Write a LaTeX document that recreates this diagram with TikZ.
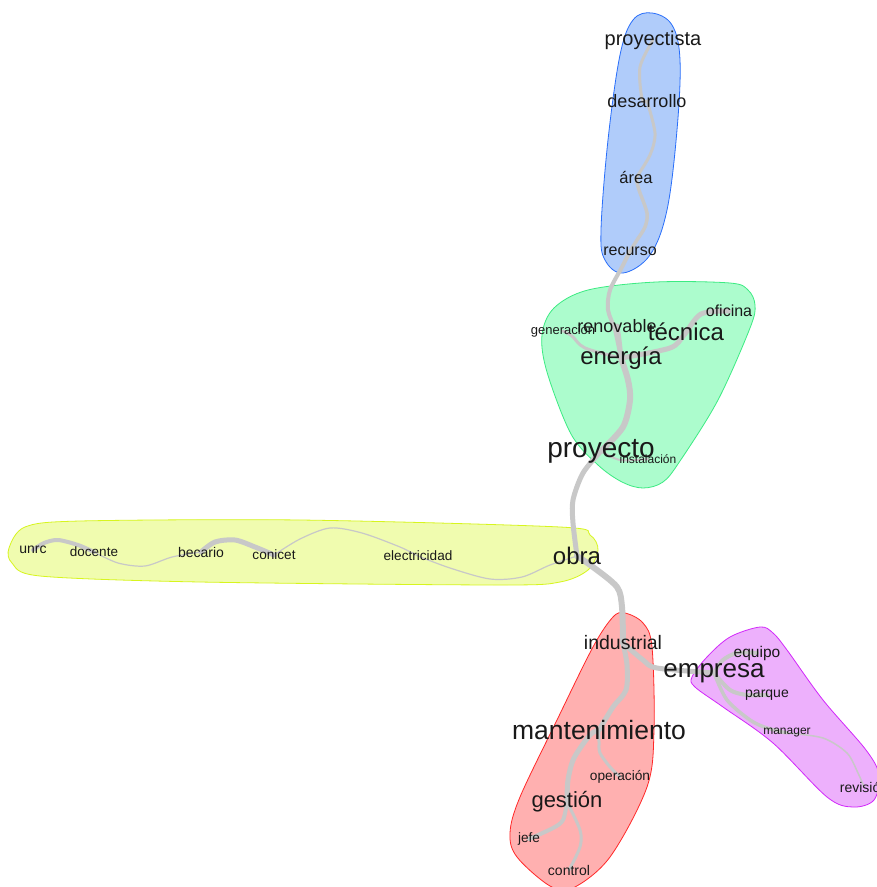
\documentclass[tikz,border=0pt]{standalone}
\usepackage{fontspec}
\setmainfont{Liberation Sans}
\pgfdeclarelayer{bg}
\pgfdeclarelayer{hull}
\pgfdeclarelayer{edges}
\pgfsetlayers{bg,hull,edges,main}
\definecolor{edgegray}{RGB}{200,200,200}
\definecolor{bluefill}{RGB}{176,204,250}
\definecolor{blueline}{RGB}{40,110,250}
\definecolor{greenfill}{RGB}{172,252,205}
\definecolor{greenline}{RGB}{60,235,130}
\definecolor{yellowfill}{RGB}{240,252,175}
\definecolor{yellowline}{RGB}{215,245,30}
\definecolor{redfill}{RGB}{255,176,176}
\definecolor{redline}{RGB}{255,40,40}
\definecolor{purplefill}{RGB}{237,176,252}
\definecolor{purpleline}{RGB}{210,40,250}
\tikzset{
  lbl/.style={inner sep=0pt, yshift=-2pt, text=black!90, font=\fontsize{#1}{#1}\selectfont},
  edge/.style={draw=edgegray, line width=#1, line cap=round, line join=round},
  hullshape/.style={line width=0.8pt}
}
\begin{document}
\begin{tikzpicture}[x=1pt,y=-1pt]
\clip (0,0) rectangle (877,887);
\begin{pgfonlayer}{bg}
\fill[white] (0,0) rectangle (877,887);
\end{pgfonlayer}
% nodes
\node[lbl=20] (proyectista) at (653,38) {proyectista};
\node[lbl=18] (desarrollo) at (647,99) {desarrollo};
\node[lbl=16.5] (area) at (636,176) {área};
\node[lbl=16] (recurso) at (630,249) {recurso};
\node[lbl=13] (generacion) at (563,329) {generación};
\node[lbl=18] (renovable) at (617,324) {renovable};
\node[lbl=24] (tecnica) at (686,330) {técnica};
\node[lbl=16] (oficina) at (729,309) {oficina};
\node[lbl=24] (energia) at (621,356) {energía};
\node[lbl=28] (proyecto) at (601,449) {proyecto};
\node[lbl=12] (instalacion) at (648,457) {instalación};
\node[lbl=14] (unrc) at (33,548) {unrc};
\node[lbl=13.5] (docente) at (94,550) {docente};
\node[lbl=14] (becario) at (201,550) {becario};
\node[lbl=13.6] (conicet) at (274,553) {conicet};
\node[lbl=13.6] (electricidad) at (418,554) {electricidad};
\node[lbl=24] (obra) at (577,554) {obra};
\node[lbl=19.5] (industrial) at (623,641) {industrial};
\node[lbl=26] (empresa) at (714,671) {empresa};
\node[lbl=15.5] (equipo) at (757,651) {equipo};
\node[lbl=14] (parque) at (767,693) {parque};
\node[lbl=12] (manager) at (787,731) {manager};
\node[lbl=14] (revision) at (864,785) {revisión};
\node[lbl=26.5] (mantenimiento) at (599,728) {mantenimiento};
\node[lbl=13.7] (operacion) at (620,775) {operación};
\node[lbl=22] (gestion) at (567,800) {gestión};
\node[lbl=13.6] (jefe) at (529,837) {jefe};
\node[lbl=14] (control) at (569,868) {control};
% edges
\begin{pgfonlayer}{edges}
\draw[edge=3pt] plot[smooth] coordinates {(proyectista.center) (640,67) (642,99) (desarrollo.center)};
\draw[edge=3pt] plot[smooth] coordinates {(desarrollo.center) (655,133) (650,155) (area.center)};
\draw[edge=3.5pt] plot[smooth] coordinates {(area.center) (639,190) (647,213) (645,227) (637,240) (recurso.center)};
\draw[edge=4pt] plot[smooth] coordinates {(recurso.center) (622,267) (610,290) (608,310) (615,330) (energia.center)};
\draw[edge=5pt] plot[smooth] coordinates {(renovable.center) (619,340) (energia.center)};
\draw[edge=6pt] plot[smooth] coordinates {(energia.center) (628,380) (630,400) (623,427) (proyecto.center)};
\draw[edge=3pt] plot[smooth] coordinates {(generacion.center) (572,336) (585,348) (energia.center)};
\draw[edge=5pt] plot[smooth] coordinates {(oficina.center) (701,314) (684,335) (670,348) (energia.center)};
\draw[edge=2pt] plot[smooth] coordinates {(proyecto.center) (620,460) (instalacion.center)};
\draw[edge=5pt] plot[smooth] coordinates {(proyecto.center) (583,473) (573,500) (573,523) (obra.center)};
\draw[edge=6pt] plot[smooth] coordinates {(obra.center) (593,567) (617,587) (622,607) (industrial.center)};
\draw[edge=5pt] plot[smooth] coordinates {(industrial.center) (627,665) (626,690) (613,707) (mantenimiento.center)};
\draw[edge=5pt] plot[smooth] coordinates {(industrial.center) (643,660) (657,668) (empresa.center)};
\draw[edge=5pt] plot[smooth] coordinates {(mantenimiento.center) (590,735) (574,758) (568,780) (gestion.center)};
\draw[edge=3pt] plot[smooth] coordinates {(mantenimiento.center) (599,742) (600,753) (610,767) (operacion.center)};
\draw[edge=4pt] plot[smooth] coordinates {(gestion.center) (563,820) (553,828) (jefe.center)};
\draw[edge=3pt] plot[smooth] coordinates {(gestion.center) (580,830) (580,847) (control.center)};
\draw[edge=4pt] plot[smooth] coordinates {(empresa.center) (723,660) (737,653) (equipo.center)};
\draw[edge=4pt] plot[smooth] coordinates {(empresa.center) (730,690) (747,695) (parque.center)};
\draw[edge=3.5pt] plot[smooth] coordinates {(empresa.center) (727,700) (750,720) (767,728) (manager.center)};
\draw[edge=1.5pt] plot[smooth] coordinates {(manager.center) (823,738) (847,753) (858,773) (revision.center)};
\draw[edge=4pt] plot[smooth] coordinates {(unrc.center) (44,543) (58,540) (78,545) (docente.center)};
\draw[edge=1.2pt] plot[smooth] coordinates {(docente.center) (118,563) (145,566) (172,557) (becario.center)};
\draw[edge=5pt] plot[smooth] coordinates {(becario.center) (215,542) (235,540) (255,547) (conicet.center)};
\draw[edge=1.2pt] plot[smooth] coordinates {(conicet.center) (300,539) (330,528) (362,533) (400,547) (electricidad.center)};
\draw[edge=1.2pt] plot[smooth] coordinates {(electricidad.center) (450,568) (490,579) (522,577) (550,565) (obra.center)};
\end{pgfonlayer}
% hulls
\begin{pgfonlayer}{hull}
\filldraw[hullshape, fill=bluefill, draw=blueline] plot[smooth cycle, tension=0.6] coordinates {(652,13) (672,25) (680,60) (677,130) (667,210) (650,255) (623,273) (605,260) (601,230) (608,140) (620,55) (633,20)};
\filldraw[hullshape, fill=greenfill, draw=greenline] plot[smooth cycle, tension=0.55] coordinates {(542,335) (554,308) (588,290) (656,282) (730,283) (748,290) (755,305) (750,328) (718,400) (680,461) (663,482) (643,488) (622,482) (598,465) (571,434) (547,372)};
\filldraw[hullshape, fill=yellowfill, draw=yellowline] plot[smooth cycle, tension=0.5] coordinates {(9,548) (25,527) (80,521) (300,520) (560,527) (590,535) (598,550) (588,570) (560,582) (500,585) (200,582) (40,576) (12,563)};
\filldraw[hullshape, fill=redfill, draw=redline] plot[smooth cycle, tension=0.55] coordinates {(625,613) (643,623) (652,647) (654,730) (647,787) (610,857) (573,888) (550,886) (517,857) (510,833) (520,797) (557,720) (593,647) (613,617)};
\filldraw[hullshape, fill=purplefill, draw=purpleline] plot[smooth cycle, tension=0.55] coordinates {(692,677) (707,657) (730,637) (760,627) (773,633) (787,650) (823,700) (866,750) (879,775) (874,800) (853,807) (827,797) (773,743) (723,707) (695,687)};
\end{pgfonlayer}
\end{tikzpicture}
\end{document}
